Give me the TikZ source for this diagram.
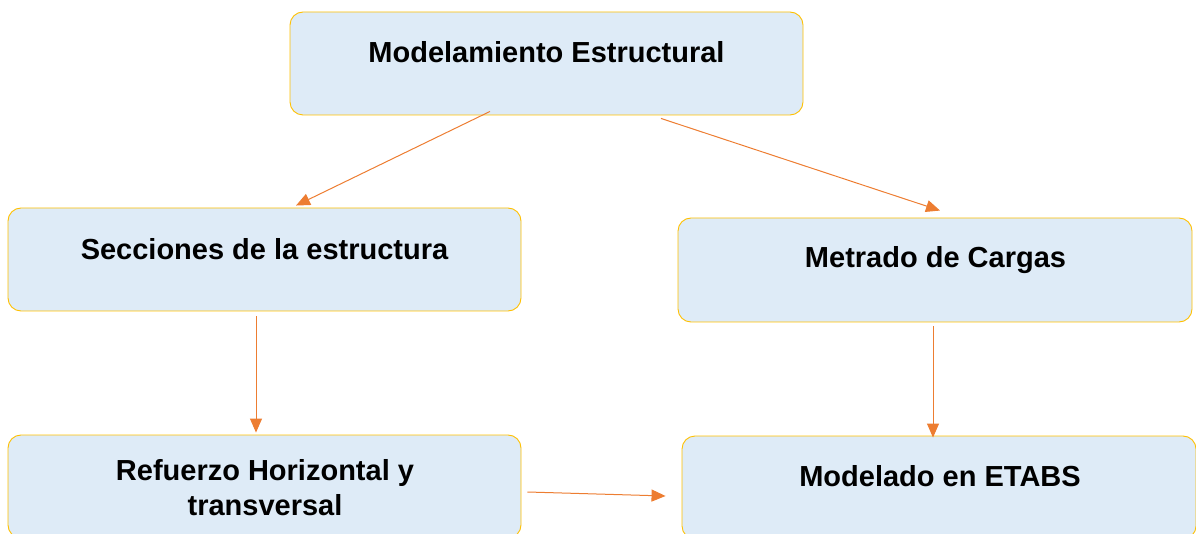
\documentclass[tikz,border=0pt]{standalone}
\usepackage{fontspec}
\setmainfont{Liberation Sans}
\usetikzlibrary{arrows.meta}
\definecolor{boxfill}{HTML}{DEEBF7}
\definecolor{boxline}{HTML}{FFC000}
\definecolor{arr}{HTML}{ED7D31}
\tikzset{
  box/.style={draw=boxline, fill=boxfill, rounded corners=13pt, line width=0.9pt, inner sep=0pt},
  lbl/.style={font=\fontsize{29}{35}\selectfont\bfseries, align=center, inner sep=0pt},
  conn/.style={draw=arr, line width=1pt, -{Triangle[length=14pt,width=12pt]}}
}
\begin{document}
\begin{tikzpicture}[x=1pt,y=-1pt]
\useasboundingbox (0,0) rectangle (1196,534);
\node[box, minimum width=513pt, minimum height=103pt] (top) at (546.5,63.5) {};
\node[box, minimum width=513pt, minimum height=103pt] (secc) at (264.5,259.5) {};
\node[box, minimum width=514pt, minimum height=104pt] (metr) at (935,270) {};
\node[box, minimum width=513pt, minimum height=103pt] (ref) at (264.5,486.5) {};
\node[box, minimum width=514pt, minimum height=103pt] (mod) at (939,487.5) {};
\node[lbl] (ttop) at (546.5,52) {Modelamiento Estructural};
\node[lbl] (tsecc) at (264.5,249) {Secciones de la estructura};
\node[lbl] (tmetr) at (935.5,260) {Metrado de Cargas};
\node[lbl] (tref) at (265,487.5) {Refuerzo Horizontal y\\transversal};
\node[lbl] (tmod) at (940,476) {Modelado en ETABS};
\draw[conn] ([xshift=-56.5pt,yshift=4pt]top.south) -- ([xshift=31.5pt,yshift=2pt]secc.north);
\draw[conn] ([xshift=114.5pt,yshift=-3pt]top.south) -- ([xshift=5pt,yshift=7pt]metr.north);
\draw[conn] ([xshift=-8.5pt,yshift=-5pt]secc.south) -- ([xshift=-8.5pt,yshift=2pt]ref.north);
\draw[conn] ([xshift=-2pt,yshift=-4pt]metr.south) -- ([xshift=-6pt,yshift=-2pt]mod.north);
\draw[conn] ([xshift=6pt,yshift=-5.5pt]ref.east) -- ([xshift=-16pt,yshift=-8.5pt]mod.west);
\end{tikzpicture}
\end{document}
